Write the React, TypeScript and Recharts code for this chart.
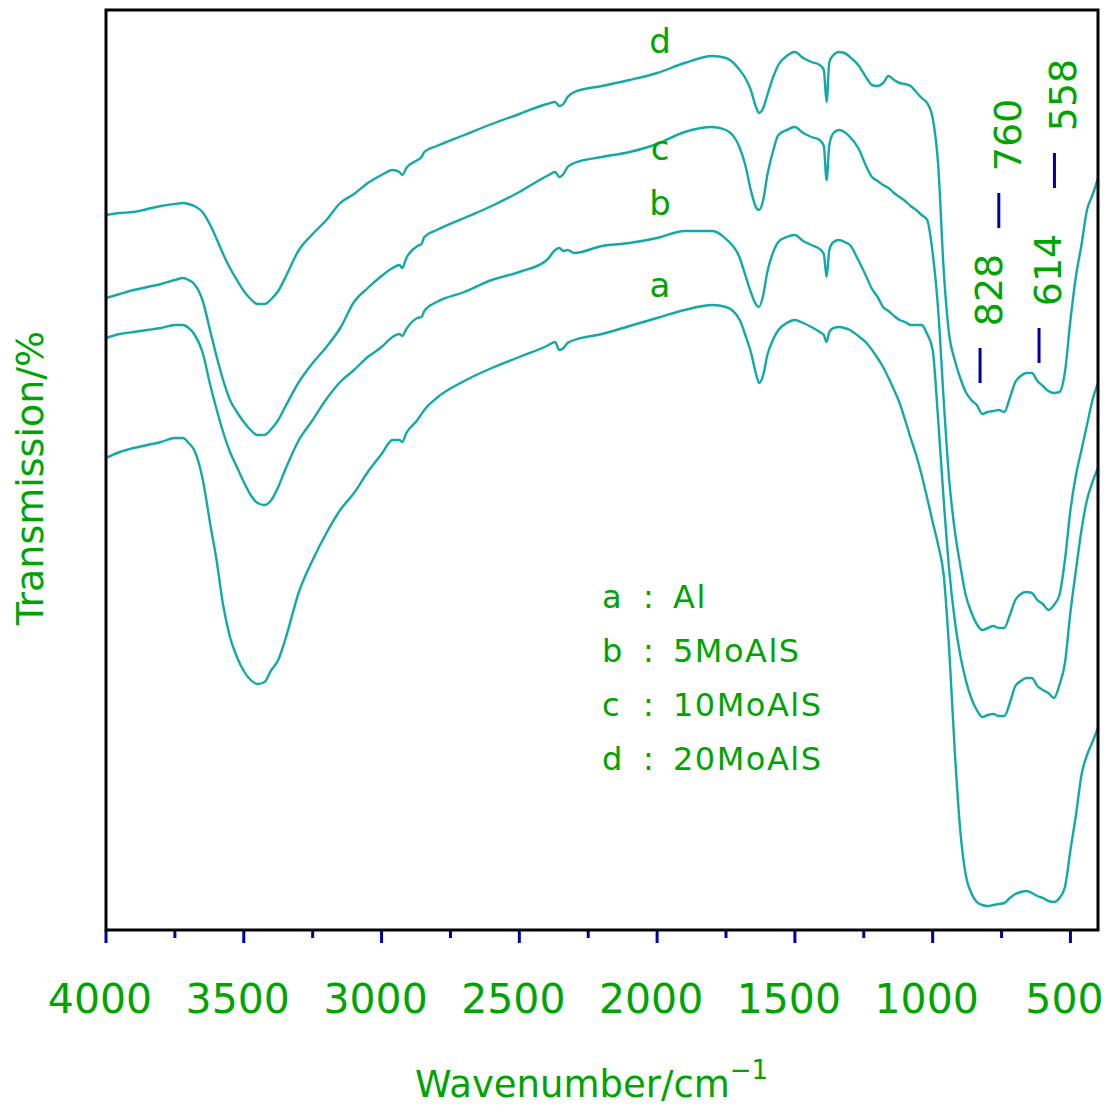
import { LineChart, Line, XAxis, YAxis, ReferenceLine } from "recharts";

const wavenumbers = [
  4000, 3950, 3900, 3850, 3800, 3750, 3720, 3700, 3680, 3650, 3620, 3600, 3575, 3550, 3525, 3500,
  3475, 3450, 3425, 3400, 3375, 3350, 3300, 3250, 3200, 3150, 3100, 3050, 3000, 2960, 2935, 2925,
  2910, 2870, 2855, 2845, 2800, 2700, 2600, 2500, 2400, 2370, 2355, 2340, 2325, 2300, 2200, 2100,
  2000, 1900, 1800, 1750, 1700, 1680, 1660, 1640, 1630, 1615, 1600, 1580, 1560, 1530, 1500, 1470,
  1440, 1410, 1395, 1385, 1375, 1360, 1340, 1320, 1300, 1270, 1240, 1220, 1200, 1180, 1160, 1140,
  1120, 1100, 1080, 1060, 1040, 1020, 1000, 980, 960, 940, 920, 900, 880, 860, 840, 820, 800, 780,
  760, 740, 720, 700, 680, 660, 640, 620, 600, 580, 560, 540, 520, 500, 480, 460, 440, 420, 400,
];

// offset transmission, arbitrary units
const curveA = [
  472, 478, 482, 485, 488, 492, 492, 487, 480, 452, 403, 372, 325, 293, 273, 259,
  250, 246, 248, 260, 270, 290, 338, 370, 397, 420, 437, 458, 476, 490, 490, 488,
  497, 510, 516, 520, 532, 549, 562, 573, 584, 588, 580, 582, 587, 590, 596, 604,
  612, 620, 625, 623, 610, 595, 578, 555, 547, 555, 575, 590, 600, 607, 610, 607,
  603, 598, 595, 588, 598, 602, 603, 602, 600, 594, 587, 580, 572, 563, 552, 540,
  527, 510, 492, 475, 455, 432, 408, 385, 355, 280, 180, 100, 55, 37, 28, 25, 24, 25,
  26, 27, 32, 36, 38, 39, 37, 34, 32, 29, 28, 32, 43, 80, 115, 155, 175, 188, 202,
];

const curveB = [
  592, 596, 598, 600, 602, 605, 605, 602, 596, 578, 543, 522, 498, 478, 463, 448,
  435, 427, 425, 430, 443, 460, 490, 510, 531, 548, 560, 573, 583, 593, 596, 594,
  601, 612, 613, 619, 628, 638, 650, 658, 670, 680, 682, 679, 680, 677, 684, 687,
  692, 699, 699, 691, 672, 655, 638, 625, 623, 635, 658, 677, 688, 693, 695, 689,
  685, 681, 676, 653, 680, 688, 690, 688, 685, 670, 653, 641, 633, 623, 619, 614,
  610, 608, 605, 605, 605, 596, 580, 510, 430, 360, 310, 275, 250, 232, 220, 213, 215, 216,
  214, 214, 227, 244, 249, 252, 252, 244, 240, 237, 232, 245, 267, 318, 360, 400, 430, 448, 462,
];

const curveC = [
  632, 636, 640, 643, 646, 650, 652, 650, 646, 630, 597, 575, 550, 530, 518, 508,
  500, 495, 495, 501, 510, 523, 548, 567, 583, 602, 628, 642, 654, 662, 665, 662,
  672, 684, 686, 693, 700, 712, 724, 738, 754, 758, 753, 756, 763, 767, 773, 778,
  786, 798, 803, 800, 782, 765, 740, 722, 720, 730, 755, 778, 795, 800, 803, 797,
  793, 790, 784, 750, 785, 797, 800, 798, 793, 782, 763, 753, 749, 745, 742, 737,
  733, 729, 724, 720, 715, 710, 677, 620, 530, 450, 400, 365, 335, 318, 306, 300, 302, 304,
  302, 302, 315, 330, 336, 338, 337, 330, 326, 320, 325, 335, 370, 420, 455, 480, 505, 530, 547,
];

const curveD = [
  715, 717, 718, 721, 724, 726, 727, 726, 724, 718, 704, 692, 676, 662, 650, 639,
  631, 626, 626, 631, 639, 652, 680, 696, 710, 727, 736, 747, 755, 760, 758, 755,
  762, 770, 773, 778, 784, 795, 806, 816, 826, 828, 824, 826, 833, 838, 844, 850,
  857, 867, 874, 872, 860, 852, 840, 822, 817, 822, 835, 852, 865, 874, 878, 872,
  868, 865, 860, 828, 868, 875, 878, 877, 873, 865, 852, 845, 844, 847, 854, 850,
  847, 846, 844, 838, 832, 827, 812, 765, 660, 595, 570, 552, 538, 530, 525, 516, 518, 519,
  520, 518, 532, 548, 554, 557, 557, 549, 544, 539, 537, 538, 558, 610, 654, 685, 720, 735, 752,
];

const xTicks = [4000, 3750, 3500, 3250, 3000, 2750, 2500, 2250, 2000, 1750, 1500, 1250, 1000, 750, 500];
const majorLabels = [4000, 3500, 3000, 2500, 2000, 1500, 1000, 500];

const peakLabels = ["828", "760", "614", "558"];
const peakWavenumbers = [828, 760, 614, 558];
const peakMarkLow = [547, 702, 567, 742];
const peakMarkHigh = [582, 737, 602, 777];

const sampleKeys = ["a", "b", "c", "d"];
const sampleNames = ["Al", "5MoAlS", "10MoAlS", "20MoAlS"];

const data = wavenumbers.map((w, i) => ({
  w,
  a: curveA[i],
  b: curveB[i],
  c: curveC[i],
  d: curveD[i],
}));

const GREEN = "#00a400";
const TEAL = "#14a9a9";
const BLUE = "#0000a8";
const FONT = "'DejaVu Sans', sans-serif";

function WaveTick(props: any) {
  const { x, y, payload } = props;
  const major = majorLabels.includes(payload.value);
  return (
    <g>
      <line x1={x} x2={x} y1={y} y2={y + (major ? 13 : 8)} stroke={BLUE} strokeWidth={3} />
      {major && (
        <text x={x - 6} y={y + 83} textAnchor="middle" fill={GREEN} fontSize={41} fontFamily={FONT}>
          {payload.value}
        </text>
      )}
    </g>
  );
}

const peakLabel = (text: string) => (props: any) => {
  const vb = props.viewBox;
  const tx = vb.x + 22;
  const ty = vb.y - 58;
  return (
    <text
      x={tx}
      y={ty}
      transform={`rotate(-90 ${tx} ${ty})`}
      textAnchor="middle"
      fill={GREEN}
      fontSize={38}
      fontFamily={FONT}
    >
      {text}
    </text>
  );
};

export default function App() {
  return (
    <div style={{ position: "absolute", left: 0, top: 0, width: 1112, height: 1109, background: "#fff" }}>
      <LineChart width={1112} height={1109} data={data} margin={{ top: 10, right: 14, left: 106, bottom: 79 }}>
        <XAxis
          dataKey="w"
          type="number"
          domain={[400, 4000]}
          reversed
          allowDataOverflow
          ticks={xTicks}
          interval={0}
          tick={<WaveTick />}
          tickLine={false}
          tickSize={0}
          tickMargin={0}
          height={100}
          axisLine={false}
        />
        <YAxis type="number" domain={[0, 920]} hide />
        {["a", "b", "c", "d"].map((k) => (
          <Line
            key={k}
            dataKey={k}
            stroke={TEAL}
            strokeWidth={2.4}
            dot={false}
            type="monotone"
            isAnimationActive={false}
          />
        ))}
        {peakWavenumbers.map((p, i) => (
          <ReferenceLine
            key={p}
            segment={[
              { x: p, y: peakMarkLow[i] },
              { x: p, y: peakMarkHigh[i] },
            ]}
            stroke={BLUE}
            strokeWidth={3}
            label={peakLabel(peakLabels[i])}
          />
        ))}
      </LineChart>
      <svg
        width={1112}
        height={1109}
        style={{ position: "absolute", left: 0, top: 0, pointerEvents: "none" }}
        fontFamily={FONT}
        fill={GREEN}
      >
        <rect x={106} y={10} width={992} height={920} fill="none" stroke="#000" strokeWidth={3} />

        <text x={660} y={53} textAnchor="middle" fontSize={34}>d</text>
        <text x={660} y={160} textAnchor="middle" fontSize={34}>c</text>
        <text x={660} y={215} textAnchor="middle" fontSize={34}>b</text>
        <text x={660} y={297} textAnchor="middle" fontSize={34}>a</text>

        {sampleKeys.map((k, i) => (
          <g key={k} fontSize={32}>
            <text x={602} y={608 + i * 54}>{k}</text>
            <text x={643} y={608 + i * 54}>:</text>
            <text x={673} y={608 + i * 54} letterSpacing={1.5}>{sampleNames[i]}</text>
          </g>
        ))}

        <text x={415} y={1097} fontSize={37}>
          Wavenumber/cm
          <tspan dy={-18} fontSize={26}>−1</tspan>
        </text>
        <text x={43} y={478} fontSize={38} textAnchor="middle" transform="rotate(-90 43 478)">
          Transmission/%
        </text>
      </svg>
    </div>
  );
}
